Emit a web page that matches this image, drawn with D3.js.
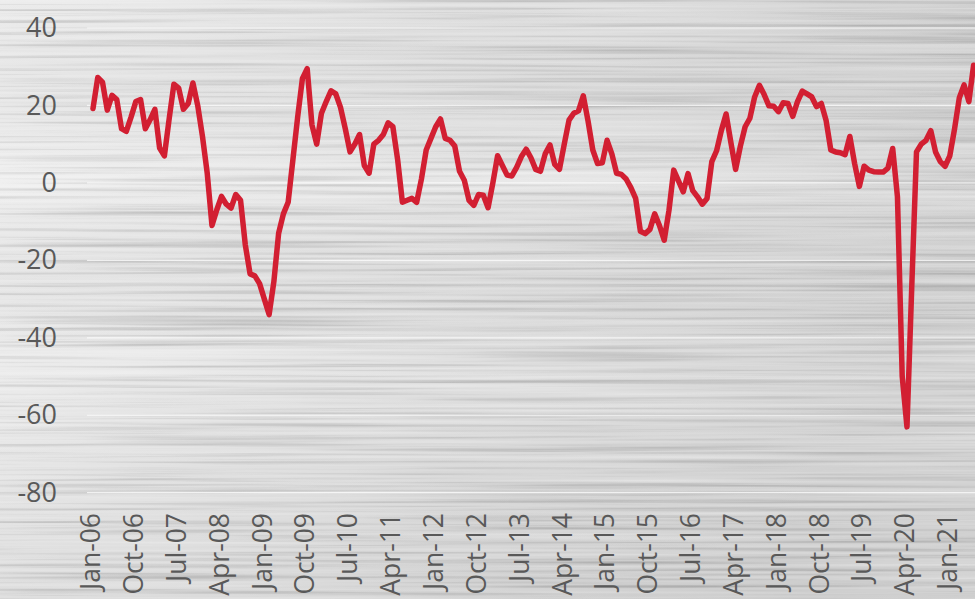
<!DOCTYPE html>
<html>
<head>
<meta charset="utf-8">
<script src="https://cdn.jsdelivr.net/npm/d3@7"></script>
<style>
  html, body { margin: 0; padding: 0; background: #e4e4e4; }
  svg { display: block; }
  text { font-family: "Open Sans", "Noto Sans", sans-serif; fill: #595959; }
</style>
</head>
<body>
<svg id="chart" width="975" height="599"></svg>
<script>
// Monthly balance index, Jan 2006 – Jun 2021
const startMonth = new Date(2006, 0, 1);
const endMonth = new Date(2021, 6, 1);
const months = d3.timeMonth.range(startMonth, endMonth);

const values = [
  // 2006
  19.2, 27.2, 26.0, 18.8, 22.6, 21.5, 14.0, 13.3, 17.0, 21.0, 21.5, 14.0,
  // 2007
  16.3, 19.0, 9.0, 7.0, 16.5, 25.5, 24.5, 19.0, 20.5, 25.8, 20.0, 12.0,
  // 2008
  2.5, -11.0, -7.0, -3.5, -5.5, -6.5, -3.0, -4.5, -16.0, -23.5, -24.0, -26.0,
  // 2009
  -30.0, -34.0, -25.5, -13.0, -8.0, -5.0, 6.0, 17.0, 27.0, 29.5, 15.0, 10.0,
  // 2010
  18.0, 21.0, 23.8, 23.0, 19.5, 14.0, 8.0, 10.0, 12.5, 4.5, 2.5, 10.0,
  // 2011
  11.0, 12.5, 15.5, 14.5, 6.0, -5.0, -4.5, -4.0, -5.0, 1.0, 8.5, 11.5,
  // 2012
  14.5, 16.5, 11.5, 11.0, 9.5, 3.0, 0.7, -4.5, -5.8, -3.0, -3.2, -6.4,
  // 2013
  0.0, 7.0, 4.5, 2.0, 1.8, 4.0, 6.8, 8.7, 6.5, 3.5, 3.0, 7.5,
  // 2014
  9.8, 4.8, 3.5, 10.0, 16.2, 18.0, 18.6, 22.5, 16.0, 8.5, 5.0, 5.2,
  // 2015
  11.0, 7.5, 2.5, 2.2, 1.0, -1.2, -4.0, -12.5, -13.1, -12.0, -8.0, -11.0,
  // 2016
  -14.8, -7.1, 3.3, 0.5, -2.3, 2.4, -2.0, -3.6, -5.5, -4.0, 5.5, 8.3,
  // 2017
  13.5, 17.8, 10.5, 3.5, 9.5, 14.5, 16.7, 22.2, 25.2, 22.8, 19.9, 19.8,
  // 2018
  18.4, 20.7, 20.5, 17.2, 21.0, 23.7, 23.0, 22.2, 19.7, 20.5, 16.2, 8.5,
  // 2019
  8.0, 7.8, 7.3, 12.0, 5.0, -0.9, 4.3, 3.3, 2.9, 2.8, 2.8, 3.8,
  // 2020
  8.9, -3.6, -50.0, -63.0, -27.0, 8.0, 10.0, 11.0, 13.5, 8.0, 5.5, 4.3,
  // 2021
  7.0, 14.0, 22.0, 25.3, 21.0, 30.4
];

const tickLabels = [
  "Jan-06", "Oct-06", "Jul-07", "Apr-08", "Jan-09", "Oct-09", "Jul-10",
  "Apr-11", "Jan-12", "Oct-12", "Jul-13", "Apr-14", "Jan-15", "Oct-15",
  "Jul-16", "Apr-17", "Jan-18", "Oct-18", "Jul-19", "Apr-20", "Jan-21"
];

const yTicks = [40, 20, 0, -20, -40, -60, -80];

const W = 975, H = 599;
const fmt = d3.timeFormat("%b-%y");
const categories = months.map(fmt);

const svg = d3.select("#chart");
const defs = svg.append("defs");

// Brushed-metal backdrop: soft light falloff plus horizontal streak noise
const bgGrad = defs.append("linearGradient")
  .attr("id", "bgGrad").attr("x1", "0").attr("y1", "0").attr("x2", "1").attr("y2", "0.35");
[["0%", "#f1f1f1"], ["35%", "#e6e6e6"], ["70%", "#dcdcdc"], ["100%", "#d5d5d5"]]
  .forEach(([o, c]) => bgGrad.append("stop").attr("offset", o).attr("stop-color", c));

const shade = defs.append("linearGradient")
  .attr("id", "shade").attr("x1", "0").attr("y1", "0").attr("x2", "0").attr("y2", "1");
[["0%", "#000", 0.02], ["30%", "#fff", 0.12], ["60%", "#000", 0.0], ["100%", "#000", 0.04]]
  .forEach(([o, c, a]) => shade.append("stop").attr("offset", o)
    .attr("stop-color", c).attr("stop-opacity", a));

const brush = defs.append("filter").attr("id", "brush")
  .attr("filterUnits", "userSpaceOnUse")
  .attr("x", 0).attr("y", 0).attr("width", W).attr("height", H);
brush.append("feTurbulence")
  .attr("type", "fractalNoise").attr("baseFrequency", "0.0025 0.25")
  .attr("numOctaves", 3).attr("seed", 11).attr("result", "noise");
brush.append("feColorMatrix").attr("in", "noise").attr("type", "matrix")
  .attr("values", "0.42 0 0 0 0.29  0.42 0 0 0 0.29  0.42 0 0 0 0.29  0 0 0 0 1")
  .attr("result", "grey");
brush.append("feBlend").attr("in", "SourceGraphic").attr("in2", "grey").attr("mode", "overlay");

svg.append("rect").attr("width", W).attr("height", H)
  .attr("fill", "url(#bgGrad)").attr("filter", "url(#brush)");
svg.append("rect").attr("width", W).attr("height", H).attr("fill", "url(#shade)");

// Scales
const x = d3.scaleBand().domain(categories).range([90.6, 976]).padding(0);
const xc = c => x(c) + x.bandwidth() / 2;
const y = d3.scaleLinear().domain([-80, 40]).range([492.7, 28]);

// Gridlines
svg.append("g")
  .selectAll("line").data(yTicks).join("line")
  .attr("x1", 87).attr("x2", W)
  .attr("y1", d => y(d)).attr("y2", d => y(d))
  .attr("stroke", "#ffffff").attr("stroke-opacity", 0.7).attr("stroke-width", 1.2);

// Y axis labels (plain hyphen-minus, as in the source workbook)
const yAxis = d3.axisLeft(y).tickValues(yTicks).tickSize(0).tickPadding(0)
  .tickFormat(d => String(d));
const gy = svg.append("g").attr("transform", "translate(57,0)").call(yAxis);
gy.select(".domain").remove();
gy.selectAll("text")
  .attr("font-size", 27).attr("fill", "#595959")
  .style("font-family", '"Open Sans", sans-serif');

// X axis labels (rotated)
const xAxis = d3.axisBottom(x).tickValues(tickLabels).tickSize(0).tickPadding(0);
const gx = svg.append("g").attr("transform", "translate(0,513)").call(xAxis);
gx.select(".domain").remove();
gx.selectAll("text")
  .attr("font-size", 26.5).attr("fill", "#595959")
  .style("font-family", '"Open Sans", sans-serif')
  .attr("text-anchor", "end")
  .attr("transform", "translate(-2,0) rotate(-90)")
  .attr("x", 0).attr("y", 0).attr("dy", "0.35em");

// Series line
const line = d3.line()
  .x((d, i) => xc(categories[i]))
  .y(d => y(d));

svg.append("path")
  .datum(values)
  .attr("d", line)
  .attr("fill", "none")
  .attr("stroke", "#d21f32")
  .attr("stroke-width", 5.5)
  .attr("stroke-linejoin", "round")
  .attr("stroke-linecap", "round");
</script>
</body>
</html>
